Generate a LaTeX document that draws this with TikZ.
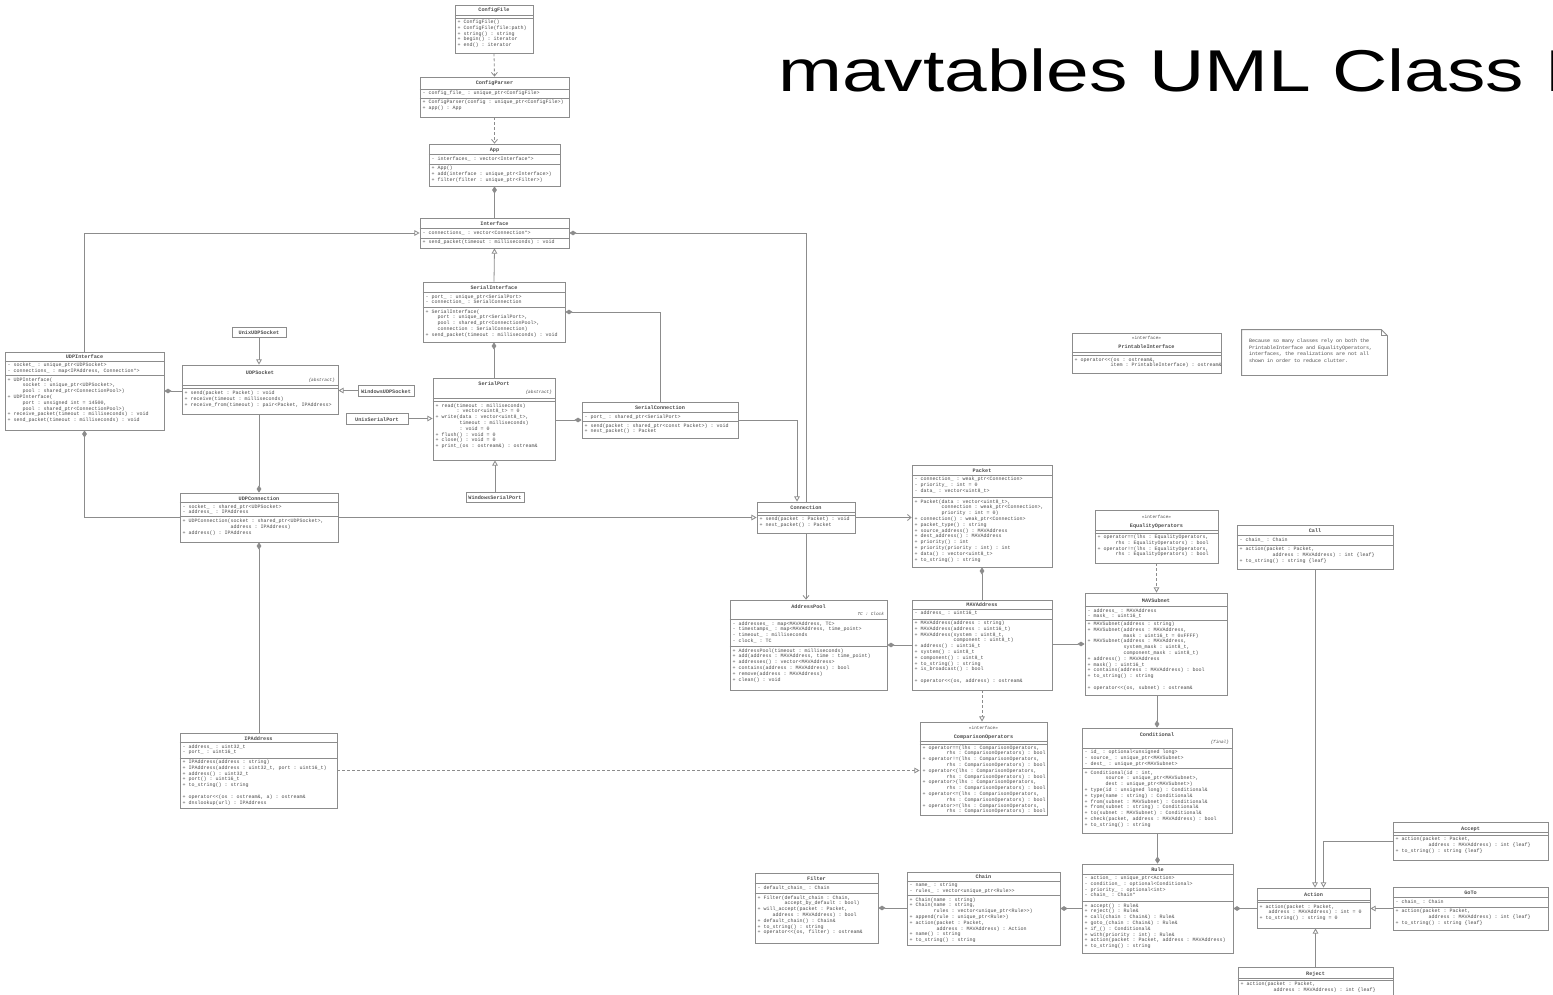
\documentclass[tikz,border=0pt]{standalone}
\usepackage{fontspec}
\usepackage{graphicx}
\setmainfont{Liberation Sans}
\setmonofont{Liberation Mono}
\usetikzlibrary{arrows.meta,fit}

\definecolor{linecol}{gray}{0.55}
\definecolor{txtcol}{gray}{0.3}

% class box from its corners (x1,y1) and (x2,y2)
\newcommand\klass[5]{\path (#2,#3) coordinate (#1-nw) (#4,#5) coordinate (#1-se);
  \node[classbox, fit=(#1-nw)(#1-se)] (#1) {};}
\newcommand\ktitle[3]{\node[ktitle] at (#1.center |- 0,#2) {#3};}
\newcommand\kstereo[3]{\node[kstereo] at (#1.center |- 0,#2) {#3};}
\newcommand\ksep[2]{\draw[sepline] (#1.west |- 0,#2) -- (#1.east |- 0,#2);}
\newcommand\ktext[3]{\node[ktext] at (#1.west |- 0,#2) {#3};}
\newcommand\kright[3]{\node[kright] at (#1.east |- 0,#2) {#3};}
\newcommand\ind[1]{\hspace*{\dimexpr1.5pt*#1\relax}}

\begin{document}
\catcode`\_=12
\catcode`\&=12
\begin{tikzpicture}[x=0.5pt,y=-0.5pt,
  classbox/.style={draw=linecol, fill=white, line width=0.4pt, inner sep=0pt},
  sepline/.style={draw=linecol, line width=0.35pt},
  ktext/.style={anchor=north west, inner xsep=1.3pt, inner ysep=0pt, align=left, text=txtcol, font=\ttfamily\fontsize{2.5}{2.9}\selectfont},
  ktitle/.style={anchor=base, inner sep=0pt, text=txtcol, font=\ttfamily\bfseries\fontsize{2.6}{3}\selectfont},
  kstereo/.style={anchor=base, inner sep=0pt, text=txtcol, font=\ttfamily\fontsize{2.2}{2.6}\selectfont},
  kright/.style={anchor=north east, inner xsep=1.5pt, inner ysep=0pt, text=txtcol, font=\ttfamily\itshape\fontsize{2.2}{2.6}\selectfont},
  conn/.style={draw=linecol, line width=0.4pt},
  cdiam/.tip={Diamond[fill=linecol, length=3.6pt, width=2.4pt]},
  otri/.tip={Triangle[fill=white, length=2.6pt, width=2.8pt]},
  obarb/.tip={Straight Barb[length=1.8pt, width=3pt]},
  comp/.style={conn, cdiam-},
  gen/.style={conn, -otri},
  real/.style={conn, -otri, dash pattern=on 1.5pt off 1pt},
  assoc/.style={conn, -obarb},
  dep/.style={conn, -obarb, dash pattern=on 1.5pt off 1pt},
]
\useasboundingbox[fill=white] (0,0) rectangle (1553,995);

\node[anchor=base west, inner sep=0pt, font=\fontsize{29.5}{32}\selectfont] (title) at (778,92) {\scalebox{1.3}[1]{mavtables UML Class Diagram}};

% ---------- configuration and application ----------
\klass{cfgfile}{455}{5}{533}{53}
\ktitle{cfgfile}{12}{ConfigFile}
\ksep{cfgfile}{15}\ksep{cfgfile}{18}
\ktext{cfgfile}{19.5}{+ ConfigFile()\\+ ConfigFile(file:path)\\+ string() : string\\+ begin() : iterator\\+ end() : iterator}

\klass{cfgparser}{420}{77}{569}{117}
\ktitle{cfgparser}{85}{ConfigParser}
\ksep{cfgparser}{89}
\ktext{cfgparser}{90.5}{- config_file_ : unique_ptr<ConfigFile>}
\ksep{cfgparser}{98}
\ktext{cfgparser}{99.5}{+ ConfigParser(config : unique_ptr<ConfigFile>)\\+ app() : App}

\klass{app}{429}{144}{560}{186}
\ktitle{app}{151.5}{App}
\ksep{app}{154.5}
\ktext{app}{156}{- interfaces_ : vector<Interface*>}
\ksep{app}{164}
\ktext{app}{165.5}{+ App()\\+ add(interface : unique_ptr<Interface>)\\+ filter(filter : unique_ptr<Filter>)}

\klass{iface}{420}{218}{569}{248}
\ktitle{iface}{225.5}{Interface}
\ksep{iface}{228.5}
\ktext{iface}{230}{- connections_ : vector<Connection*>}
\ksep{iface}{238}
\ktext{iface}{239.5}{+ send_packet(timeout : milliseconds) : void}

% ---------- serial interface ----------
\klass{serif}{423}{282}{565}{342}
\ktitle{serif}{289.5}{SerialInterface}
\ksep{serif}{292.5}
\ktext{serif}{294}{- port_ : unique_ptr<SerialPort>\\- connection_ : SerialConnection}
\ksep{serif}{307.5}
\ktext{serif}{309}{+ SerialInterface(\\\ind{4}port : unique_ptr<SerialPort>,\\\ind{4}pool : shared_ptr<ConnectionPool>,\\\ind{4}connection : SerialConnection)\\+ send_packet(timeout : milliseconds) : void}

\klass{serport}{433}{378}{555}{460}
\ktitle{serport}{385.5}{SerialPort}
\kright{serport}{389.5}{\{abstract\}}
\ksep{serport}{398.5}\ksep{serport}{401.5}
\ktext{serport}{403}{+ read(timeout : milliseconds)\\\ind{7}: vector<uint8_t> = 0\\+ write(data : vector<uint8_t>,\\\ind{8}timeout : milliseconds)\\\ind{8}: void = 0\\+ flush() : void = 0\\+ close() : void = 0\\+ print_(os : ostream&) : ostream&}

\klass{uxserport}{346}{413}{408}{424}
\ktitle{uxserport}{421}{UnixSerialPort}

\klass{winserport}{466}{492}{524}{502}
\ktitle{winserport}{499.5}{WindowsSerialPort}

\klass{serconn}{582}{402}{738}{438}
\ktitle{serconn}{409.5}{SerialConnection}
\ksep{serconn}{412.5}
\ktext{serconn}{414}{- port_ : shared_ptr<SerialPort>}
\ksep{serconn}{421.5}
\ktext{serconn}{423}{+ send(packet : shared_ptr<const Packet>) : void\\+ next_packet() : Packet}

% ---------- UDP interface ----------
\klass{udpif}{5}{352}{164}{430}
\ktitle{udpif}{358.5}{UDPInterface}
\ksep{udpif}{361}
\ktext{udpif}{362.5}{- socket_ : unique_ptr<UDPSocket>\\- connections_ : map<IPAddress, Connection*>}
\ksep{udpif}{375.5}
\ktext{udpif}{377}{+ UDPInterface(\\\ind{5}socket : unique_ptr<UDPSocket>,\\\ind{5}pool : shared_ptr<ConnectionPool>)\\+ UDPInterface(\\\ind{5}port : unsigned int = 14500,\\\ind{5}pool : shared_ptr<ConnectionPool>)\\+ receive_packet(timeout : milliseconds) : void\\+ send_packet(timeout : milliseconds) : void}

\klass{udpsock}{182}{365}{338}{414}
\ktitle{udpsock}{374}{UDPSocket}
\kright{udpsock}{377.5}{\{abstract\}}
\ksep{udpsock}{385}\ksep{udpsock}{388}
\ktext{udpsock}{390.5}{+ send(packet : Packet) : void\\+ receive(timeout : milliseconds)\\+ receive_from(timeout) : pair<Packet, IPAddress>}

\klass{uxudp}{232}{327}{286}{337}
\ktitle{uxudp}{334.5}{UnixUDPSocket}

\klass{winudp}{358}{385}{414}{396}
\ktitle{winudp}{393}{WindowsUDPSocket}

\klass{udpconn}{180}{493}{338}{542}
\ktitle{udpconn}{500}{UDPConnection}
\ksep{udpconn}{502.5}
\ktext{udpconn}{504}{- socket_ : shared_ptr<UDPSocket>\\- address_ : IPAddress}
\ksep{udpconn}{516.5}
\ktext{udpconn}{518.5}{+ UDPConnection(socket : shared_ptr<UDPSocket>,\\\ind{16}address : IPAddress)\\+ address() : IPAddress}

\klass{ipaddr}{180}{733}{337}{808}
\ktitle{ipaddr}{740}{IPAddress}
\ksep{ipaddr}{742.5}
\ktext{ipaddr}{744}{- address_ : uint32_t\\- port_ : uint16_t}
\ksep{ipaddr}{758}
\ktext{ipaddr}{759.5}{+ IPAddress(address : string)\\+ IPAddress(address : uint32_t, port : uint16_t)\\+ address() : uint32_t\\+ port() : uint16_t\\+ to_string() : string\\[2.9pt]+ operator<<(os : ostream&, a) : ostream&\\+ dnslookup(url) : IPAddress}

% ---------- connections and packets ----------
\klass{conn}{757}{502}{855}{533}
\ktitle{conn}{509.5}{Connection}
\ksep{conn}{512.5}\ksep{conn}{515}
\ktext{conn}{516.5}{+ send(packet : Packet) : void\\+ next_packet() : Packet}

\klass{apool}{730}{600}{887}{690}
\ktitle{apool}{608}{AddressPool}
\kright{apool}{611.5}{TC : Clock}
\ksep{apool}{619.5}
\ktext{apool}{621}{- addresses_ : map<MAVAddress, TC>\\- timestamps_ : map<MAVAddress, time_point>\\- timeout_ : milliseconds\\- clock_ : TC}
\ksep{apool}{646.5}
\ktext{apool}{648}{+ AddressPool(timeout : milliseconds)\\+ add(address : MAVAddress, time : time_point)\\+ addresses() : vector<MAVAddress>\\+ contains(address : MAVAddress) : bool\\+ remove(address : MAVAddress)\\+ clean() : void}

\klass{packet}{912}{465}{1052}{567}
\ktitle{packet}{472}{Packet}
\ksep{packet}{475}
\ktext{packet}{476.5}{- connection_ : weak_ptr<Connection>\\- priority_ : int = 0\\- data_ : vector<uint8_t>}
\ksep{packet}{497.5}
\ktext{packet}{499}{+ Packet(data : vector<uint8_t>,\\\ind{9}connection : weak_ptr<Connection>,\\\ind{9}priority : int = 0)\\+ connection() : weak_ptr<Connection>\\+ packet_type() : string\\+ source_address() : MAVAddress\\+ dest_address() : MAVAddress\\+ priority() : int\\+ priority(priority : int) : int\\+ data() : vector<uint8_t>\\+ to_string() : string}

\klass{mavaddr}{912}{600}{1052}{690}
\ktitle{mavaddr}{606.5}{MAVAddress}
\ksep{mavaddr}{609}
\ktext{mavaddr}{610.5}{- address_ : uint16_t}
\ksep{mavaddr}{619}
\ktext{mavaddr}{620.5}{+ MAVAddress(address : string)\\+ MAVAddress(address : uint16_t)\\+ MAVAddress(system : uint8_t,\\\ind{13}component : uint8_t)\\+ address() : uint16_t\\+ system() : uint8_t\\+ component() : uint8_t\\+ to_string() : string\\+ is_broadcast() : bool\\[2.9pt]+ operator<<(os, address) : ostream&}

\klass{cmpops}{920}{722}{1047}{815}
\kstereo{cmpops}{729}{«interface»}
\ktitle{cmpops}{738}{ComparisonOperators}
\ksep{cmpops}{741.5}\ksep{cmpops}{744}
\ktext{cmpops}{745}{+ operator==(lhs : ComparisonOperators,\\\ind{8}rhs : ComparisonOperators) : bool\\+ operator!=(lhs : ComparisonOperators,\\\ind{8}rhs : ComparisonOperators) : bool\\+ operator<(lhs : ComparisonOperators,\\\ind{8}rhs : ComparisonOperators) : bool\\+ operator>(lhs : ComparisonOperators,\\\ind{8}rhs : ComparisonOperators) : bool\\+ operator<=(lhs : ComparisonOperators,\\\ind{8}rhs : ComparisonOperators) : bool\\+ operator>=(lhs : ComparisonOperators,\\\ind{8}rhs : ComparisonOperators) : bool}

\klass{eqops}{1095}{510}{1218}{563}
\kstereo{eqops}{518}{«interface»}
\ktitle{eqops}{527}{EqualityOperators}
\ksep{eqops}{530}\ksep{eqops}{533}
\ktext{eqops}{534.5}{+ operator==(lhs : EqualityOperators,\\\ind{6}rhs : EqualityOperators) : bool\\+ operator!=(lhs : EqualityOperators,\\\ind{6}rhs : EqualityOperators) : bool}

\klass{mavsub}{1085}{593}{1227}{695}
\ktitle{mavsub}{602}{MAVSubnet}
\ksep{mavsub}{606.5}
\ktext{mavsub}{608}{- address_ : MAVAddress\\- mask_ : uint16_t}
\ksep{mavsub}{620}
\ktext{mavsub}{621.5}{+ MAVSubnet(address : string)\\+ MAVSubnet(address : MAVAddress,\\\ind{12}mask : uint16_t = 0xFFFF)\\+ MAVSubnet(address : MAVAddress,\\\ind{12}system_mask : uint8_t,\\\ind{12}component_mask : uint8_t)\\+ address() : MAVAddress\\+ mask() : uint16_t\\+ contains(address : MAVAddress) : bool\\+ to_string() : string\\[2.9pt]+ operator<<(os, subnet) : ostream&}

% ---------- filter ----------
\klass{cond}{1082}{728}{1232}{833}
\ktitle{cond}{736}{Conditional}
\kright{cond}{739.5}{\{final\}}
\ksep{cond}{748}
\ktext{cond}{749.5}{- id_ : optional<unsigned long>\\- source_ : unique_ptr<MAVSubnet>\\- dest_ : unique_ptr<MAVSubnet>}
\ksep{cond}{768.5}
\ktext{cond}{770}{+ Conditional(id : int,\\\ind{7}source : unique_ptr<MAVSubnet>,\\\ind{7}dest : unique_ptr<MAVSubnet>)\\+ type(id : unsigned long) : Conditional&\\+ type(name : string) : Conditional&\\+ from(subnet : MAVSubnet) : Conditional&\\+ from(subnet : string) : Conditional&\\+ to(subnet : MAVSubnet) : Conditional&\\+ check(packet, address : MAVAddress) : bool\\+ to_string() : string}

\klass{rule}{1082}{864}{1233}{953}
\ktitle{rule}{871.5}{Rule}
\ksep{rule}{874}
\ktext{rule}{875.5}{- action_ : unique_ptr<Action>\\- condition_ : optional<Conditional>\\- priority_ : optional<int>\\- chain_ : Chain*}
\ksep{rule}{901.5}
\ktext{rule}{903}{+ accept() : Rule&\\+ reject() : Rule&\\+ call(chain : Chain&) : Rule&\\+ goto_(chain : Chain&) : Rule&\\+ if_() : Conditional&\\+ with(priority : int) : Rule&\\+ action(packet : Packet, address : MAVAddress)\\+ to_string() : string}

\klass{filter}{755}{873}{878}{943}
\ktitle{filter}{880.5}{Filter}
\ksep{filter}{883.5}
\ktext{filter}{885}{- default_chain_ : Chain}
\ksep{filter}{893.5}
\ktext{filter}{895}{+ Filter(default_chain : Chain,\\\ind{9}accept_by_default : bool)\\+ will_accept(packet : Packet,\\\ind{5}address : MAVAddress) : bool\\+ default_chain() : Chain&\\+ to_string() : string\\+ operator<<(os, filter) : ostream&}

\klass{chain}{907}{872}{1060}{945}
\ktitle{chain}{878.5}{Chain}
\ksep{chain}{881}
\ktext{chain}{882.5}{- name_ : string\\- rules_ : vector<unique_ptr<Rule>{}>}
\ksep{chain}{895.5}
\ktext{chain}{897}{+ Chain(name : string)\\+ Chain(name : string,\\\ind{8}rules : vector<unique_ptr<Rule>{}>)\\+ append(rule : unique_ptr<Rule>)\\+ action(packet : Packet,\\\ind{9}address : MAVAddress) : Action\\+ name() : string\\+ to_string() : string}

\klass{action}{1257}{888}{1370}{928}
\ktitle{action}{896.5}{Action}
\ksep{action}{900}\ksep{action}{902.5}
\ktext{action}{904}{+ action(packet : Packet,\\\ind{3}address : MAVAddress) : int = 0\\+ to_string() : string = 0}

\klass{call}{1237}{525}{1393}{569}
\ktitle{call}{532.5}{Call}
\ksep{call}{535.5}
\ktext{call}{537}{- chain_ : Chain}
\ksep{call}{545}
\ktext{call}{546.5}{+ action(packet : Packet,\\\ind{11}address : MAVAddress) : int \{leaf\}\\+ to_string() : string \{leaf\}}

\klass{accept}{1393}{822}{1548}{860}
\ktitle{accept}{830}{Accept}
\ksep{accept}{832.5}\ksep{accept}{835}
\ktext{accept}{836.5}{+ action(packet : Packet,\\\ind{11}address : MAVAddress) : int \{leaf\}\\+ to_string() : string \{leaf\}}

\klass{goto}{1393}{887}{1548}{930}
\ktitle{goto}{894.5}{GoTo}
\ksep{goto}{897.5}
\ktext{goto}{899}{- chain_ : Chain}
\ksep{goto}{907}
\ktext{goto}{908.5}{+ action(packet : Packet,\\\ind{11}address : MAVAddress) : int \{leaf\}\\+ to_string() : string \{leaf\}}

\klass{reject}{1238}{967}{1393}{1000}
\ktitle{reject}{975}{Reject}
\ksep{reject}{978}\ksep{reject}{980.5}
\ktext{reject}{981.5}{+ action(packet : Packet,\\\ind{11}address : MAVAddress) : int \{leaf\}}

% ---------- free-standing interface and note ----------
\klass{printable}{1072}{333}{1221}{373}
\kstereo{printable}{339}{«interface»}
\ktitle{printable}{348}{PrintableInterface}
\ksep{printable}{352.5}\ksep{printable}{355.5}
\ktext{printable}{357}{+ operator<<(os : ostream&,\\\ind{12}item : PrintableInterface) : ostream&}

\path (1242,330) coordinate (note-nw) (1387,375) coordinate (note-se);
\node[inner sep=0pt, fit=(note-nw)(note-se)] (note) {};
\draw[classbox] (note.north west) -- ([xshift=-3pt]note.north east) -- ([yshift=-3pt]note.north east) -- (note.south east) -- (note.south west) -- cycle;
\draw[sepline] ([xshift=-3pt]note.north east) |- ([yshift=-3pt]note.north east);
\node[ktext, font=\ttfamily\fontsize{2.5}{3.3}\selectfont, inner xsep=0pt] (notetext) at ([xshift=3.5pt,yshift=-4.5pt]note.north west) {Because so many classes rely on both the\\PrintableInterface and EqualityOperators,\\interfaces, the realizations are not all\\shown in order to reduce clutter.};

% ---------- connectors ----------
\draw[dep] (cfgfile.south) -- (cfgparser.north);
\draw[dep] (cfgparser.south) -- (app.north);
\draw[comp] (app.south) -- (iface.north);
\draw[gen] (udpif.north) |- (iface.west);
\draw[comp] (iface.east) -| (conn.north);
\draw[gen] (serif.north) -- (iface.south);
\draw[comp] (serif.east) -| (serconn.north);
\draw[comp] (serif.south) -- (serport.north);
\draw[gen] (uxserport.east) -- (uxserport.east -| serport.west);
\draw[gen] (winserport.north) -- (winserport.north |- serport.south);
\draw[comp] (serconn.west) -- (serconn.west -| serport.east);
\draw[gen] (serconn.east) -| ([xshift=-4.5pt]conn.north);
\draw[comp] (udpif.east) -- (udpif.east -| udpsock.west);
\draw[gen] (uxudp.south) -- (uxudp.south |- udpsock.north);
\draw[gen] (winudp.west) -- (winudp.west -| udpsock.east);
\draw[comp] (udpconn.north) -- (udpconn.north |- udpsock.south);
\draw[comp] (udpif.south) |- (udpconn.west);
\draw[gen] (udpconn.east) -- (udpconn.east -| conn.west);
\draw[comp] (udpconn.south) -- (udpconn.south |- ipaddr.north);
\draw[real] (ipaddr.east) -- (ipaddr.east -| cmpops.west);
\draw[assoc] (conn.east) -- (conn.east -| packet.west);
\draw[assoc] (conn.south) -- (conn.south |- apool.north);
\draw[comp] (apool.east) -- (apool.east -| mavaddr.west);
\draw[comp] (packet.south) -- (packet.south |- mavaddr.north);
\draw[real] (mavaddr.south) -- (mavaddr.south |- cmpops.north);
\draw[comp] (mavsub.west) -- (mavsub.west -| mavaddr.east);
\draw[real] (eqops.south) -- (eqops.south |- mavsub.north);
\draw[comp] (cond.north) -- (cond.north |- mavsub.south);
\draw[comp] (rule.north) -- (rule.north |- cond.south);
\draw[comp] (filter.east) -- (filter.east -| chain.west);
\draw[comp] (chain.east) -- (chain.east -| rule.west);
\draw[comp] (rule.east) -- (rule.east -| action.west);
\draw[gen] (call.south) -- (call.south |- action.north);
\draw[gen] (accept.west) -| ([xshift=5pt]action.north);
\draw[gen] (goto.west) -- (goto.west -| action.east);
\draw[gen] (reject.north) -- (reject.north |- action.south);
\end{tikzpicture}
\end{document}
